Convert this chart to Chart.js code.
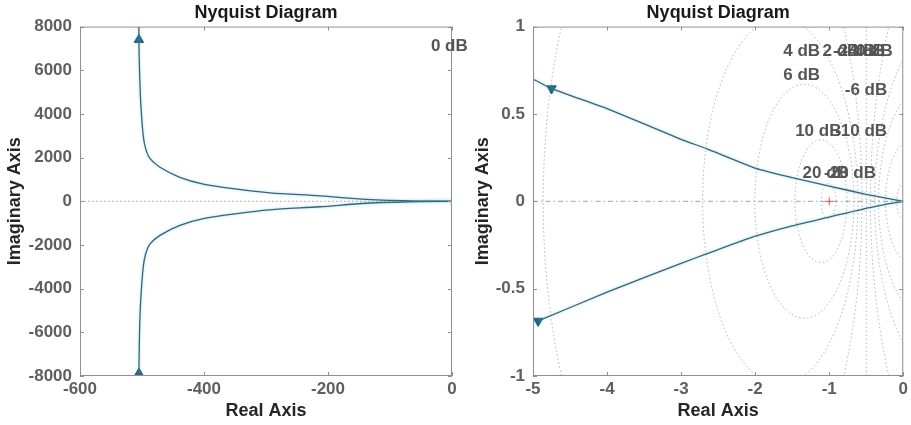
<!DOCTYPE html>
<html>
<head>
<meta charset="utf-8">
<title>Nyquist Diagram</title>
<script src="https://cdn.jsdelivr.net/npm/chart.js@4.4.1/dist/chart.umd.min.js"></script>
<style>
  html, body { margin: 0; padding: 0; background: #fff; }
  #wrap { position: relative; width: 911px; height: 425px; overflow: hidden; }
  #wrap canvas { position: absolute; top: 0; }
  #left { left: 0; }
  #right { left: 460px; }
</style>
</head>
<body>
<div id="wrap">
  <canvas id="left" width="480" height="425"></canvas>
  <canvas id="right" width="451" height="425"></canvas>
</div>
<script>
// ---- values ----
// full view: upper and lower branches (real, imaginary)
const wideUpperReal = [-505, -505, -504, -502, -498, -494, -487, -471, -439, -401, -347, -294, -213, -138, -52, 0];
const wideUpperImag = [8000, 7400, 6000, 4500, 3000, 2400, 1950, 1560, 1100, 790, 560, 390, 250, 90, 10, 0];
const wideLowerReal = [-505, -505, -504, -502, -498, -494, -487, -471, -439, -401, -347, -294, -213, -138, -52, 0];
const wideLowerImag = [-8000, -7885, -6000, -4500, -3000, -2400, -1950, -1560, -1100, -790, -560, -390, -250, -90, -10, 0];
const wideArrowReal = [-505, -505];
const wideArrowImag = [7400, -7885];

// zoomed view near the origin
const zoomUpperReal = [-5, -4.75, -4, -3, -2.65, -2, -1.5, -1, -0.5, 0];
const zoomUpperImag = [0.70, 0.645, 0.53, 0.355, 0.30, 0.19, 0.135, 0.087, 0.04, 0];
const zoomLowerReal = [-4.93, -4, -3, -2.65, -2, -1.5, -1, -0.5, 0];
const zoomLowerImag = [-0.685, -0.52, -0.355, -0.30, -0.20, -0.14, -0.09, -0.04, 0];
const zoomArrowReal = [-4.75, -4.93];
const zoomArrowImag = [0.645, -0.685];

const criticalReal = [-1];
const criticalImag = [0];

// axis ticks
const wideXTicks = [-600, -400, -200, 0];
const wideYTicks = [-8000, -6000, -4000, -2000, 0, 2000, 4000, 6000, 8000];
const zoomXTicks = [-5, -4, -3, -2, -1, 0];
const zoomYTicks = [-1, -0.5, 0, 0.5, 1];

// M-circle grid levels and their labels
const dbLevels = [-20, -10, -6, -4, -2, 0, 2, 4, 6, 10, 20];
const wideLabels = ['0 dB'];
const zoomLabels = ['4 dB', '2 dB', '-2 dB', '-4 dB', '0 dB', '6 dB', '-6 dB', '10 dB', '-10 dB', '20 dB', '-20 dB'];

// ---- drawing ----
Chart.defaults.font.family = "'Liberation Sans', Arial, sans-serif";
Chart.defaults.color = '#5a5a5a';

const pts = (xs, ys) => xs.map((v, i) => ({ x: v, y: ys[i] }));

// MATLAB-like box, inward ticks, grid circles and the dB labels
const nyquistGrid = {
  id: 'nyquistGrid',
  beforeDatasetsDraw(chart, args, opts) {
    const { ctx, chartArea: a, scales: { x, y } } = chart;
    const y0 = y.getPixelForValue(0);
    ctx.save();
    ctx.beginPath();
    ctx.rect(a.left, a.top, a.width, a.height);
    ctx.clip();
    ctx.strokeStyle = '#a0a0a0';
    ctx.lineWidth = 0.8;
    ctx.setLineDash([1.5, 2.5]);
    dbLevels.forEach(db => {
      ctx.beginPath();
      if (db === 0) {
        const px = x.getPixelForValue(-0.5);
        ctx.moveTo(px, a.top);
        ctx.lineTo(px, a.bottom);
      } else {
        const m2 = Math.pow(10, db / 10);
        const c = -m2 / (m2 - 1);
        const r = Math.abs(Math.sqrt(m2) / (m2 - 1));
        const cx = x.getPixelForValue(c);
        const rx = Math.abs(x.getPixelForValue(c + r) - cx);
        const ry = Math.abs(y.getPixelForValue(r) - y0);
        ctx.ellipse(cx, y0, rx, ry, 0, 0, Math.PI * 2);
      }
      ctx.stroke();
    });
    // real axis line
    ctx.strokeStyle = '#8a8a8a';
    ctx.setLineDash(opts.zeroDash);
    ctx.beginPath();
    ctx.moveTo(a.left, y0);
    ctx.lineTo(a.right, y0);
    ctx.stroke();
    ctx.restore();
  },
  beforeDatasetDraw(chart, args) {
    if (chart.data.datasets[args.index].showLine) {
      chart.ctx.save();
      chart.ctx.shadowColor = 'rgba(110, 200, 235, 0.7)';
      chart.ctx.shadowBlur = 3;
    }
  },
  afterDatasetDraw(chart, args) {
    if (chart.data.datasets[args.index].showLine) chart.ctx.restore();
  },
  afterDraw(chart, args, opts) {
    const { ctx, chartArea: a, scales: { x, y } } = chart;
    ctx.save();
    ctx.strokeStyle = '#8f8f8f';
    ctx.lineWidth = 1;
    ctx.strokeRect(a.left + 0.5, a.top + 0.5, a.width - 1, a.height - 1);
    ctx.beginPath();
    x.ticks.forEach(t => {
      const px = Math.round(x.getPixelForValue(t.value)) + 0.5;
      ctx.moveTo(px, a.bottom); ctx.lineTo(px, a.bottom - 4);
      ctx.moveTo(px, a.top); ctx.lineTo(px, a.top + 4);
    });
    y.ticks.forEach(t => {
      const py = Math.round(y.getPixelForValue(t.value)) + 0.5;
      ctx.moveTo(a.left, py); ctx.lineTo(a.left + 4, py);
      ctx.moveTo(a.right, py); ctx.lineTo(a.right - 4, py);
    });
    ctx.stroke();
    ctx.fillStyle = '#555';
    ctx.font = "bold 17px 'Liberation Sans', Arial, sans-serif";
    ctx.textAlign = 'left';
    ctx.textBaseline = 'middle';
    opts.labels.forEach((txt, i) => {
      const p = opts.labelAt[i];
      ctx.fillText(txt, x.getPixelForValue(p[0]), y.getPixelForValue(p[1]));
    });
    ctx.restore();
  }
};

function makeChart(id, cfg) {
  const axisTitle = { display: true, color: '#262626', font: { size: 18, weight: 'bold' } };
  const tickFont = { size: 17, weight: 'bold' };
  const curve = { showLine: true, borderColor: '#3a6475', borderWidth: 1.3, pointRadius: 0, tension: cfg.tension };
  return new Chart(document.getElementById(id), {
    type: 'scatter',
    data: {
      datasets: [
        Object.assign({ data: pts(cfg.upR, cfg.upI) }, curve),
        Object.assign({ data: pts(cfg.loR, cfg.loI) }, curve),
        { data: pts(cfg.arR, cfg.arI), pointStyle: 'triangle', pointRadius: 5.5, pointRotation: cfg.arrowRot,
          backgroundColor: '#1f5f85', borderColor: '#1f5f85', borderWidth: 1 },
        { data: pts(criticalReal, criticalImag), pointStyle: 'cross', pointRadius: 4,
          borderColor: '#e05050', borderWidth: 1 }
      ]
    },
    options: {
      responsive: false,
      animation: false,
      devicePixelRatio: 1,
      layout: { padding: { left: 0, right: cfg.padRight, top: 0, bottom: 0 } },
      plugins: {
        legend: { display: false },
        tooltip: { enabled: false },
        title: {
          display: true, text: 'Nyquist Diagram', fullSize: false, color: '#1a1a1a',
          font: { size: 18, weight: 'bold' }, padding: { top: 2, bottom: 3 }
        },
        nyquistGrid: { zeroDash: cfg.zeroDash, labels: cfg.labels, labelAt: cfg.labelAt }
      },
      scales: {
        x: {
          type: 'linear', min: cfg.xTicks[0], max: cfg.xTicks[cfg.xTicks.length - 1],
          afterBuildTicks: s => { s.ticks = cfg.xTicks.map(v => ({ value: v })); },
          afterFit: s => { s.height = 49; },
          grid: { display: false, drawTicks: false },
          border: { display: false },
          ticks: { padding: 3, font: tickFont, color: '#5f5f5f', maxRotation: 0, callback: v => String(v) },
          title: Object.assign({ text: 'Real Axis', padding: { top: 0, bottom: 3 } }, axisTitle)
        },
        y: {
          type: 'linear', min: cfg.yTicks[0], max: cfg.yTicks[cfg.yTicks.length - 1],
          afterBuildTicks: s => { s.ticks = cfg.yTicks.map(v => ({ value: v })); },
          afterFit: s => { s.width = cfg.yWidth; },
          grid: { display: false, drawTicks: false },
          border: { display: false },
          ticks: { padding: 8, font: tickFont, color: '#5f5f5f', callback: v => String(v) },
          title: Object.assign({ text: 'Imaginary Axis', padding: { top: cfg.yTitlePad, bottom: 0 } }, axisTitle)
        }
      }
    },
    plugins: [nyquistGrid]
  });
}

makeChart('left', {
  upR: wideUpperReal, upI: wideUpperImag, loR: wideLowerReal, loI: wideLowerImag,
  arR: wideArrowReal, arI: wideArrowImag, arrowRot: 0, tension: 0.3,
  xTicks: wideXTicks, yTicks: wideYTicks, yWidth: 80, padRight: 28, yTitlePad: 4,
  zeroDash: [1.5, 2.5],
  labels: wideLabels, labelAt: [[-34, 7080]]
});

makeChart('right', {
  upR: zoomUpperReal, upI: zoomUpperImag, loR: zoomLowerReal, loI: zoomLowerImag,
  arR: zoomArrowReal, arI: zoomArrowImag, arrowRot: 180, tension: 0.15,
  xTicks: zoomXTicks, yTicks: zoomYTicks, yWidth: 73, padRight: 6, yTitlePad: 12,
  zeroDash: [5, 3, 1.5, 3],
  labels: zoomLabels,
  labelAt: [[-1.62, 0.857], [-1.09, 0.857], [-0.95, 0.857], [-0.82, 0.857], [-0.64, 0.857],
            [-1.62, 0.72], [-0.79, 0.634], [-1.46, 0.40], [-0.92, 0.40], [-1.36, 0.16], [-1.07, 0.16]]
});
</script>
</body>
</html>
